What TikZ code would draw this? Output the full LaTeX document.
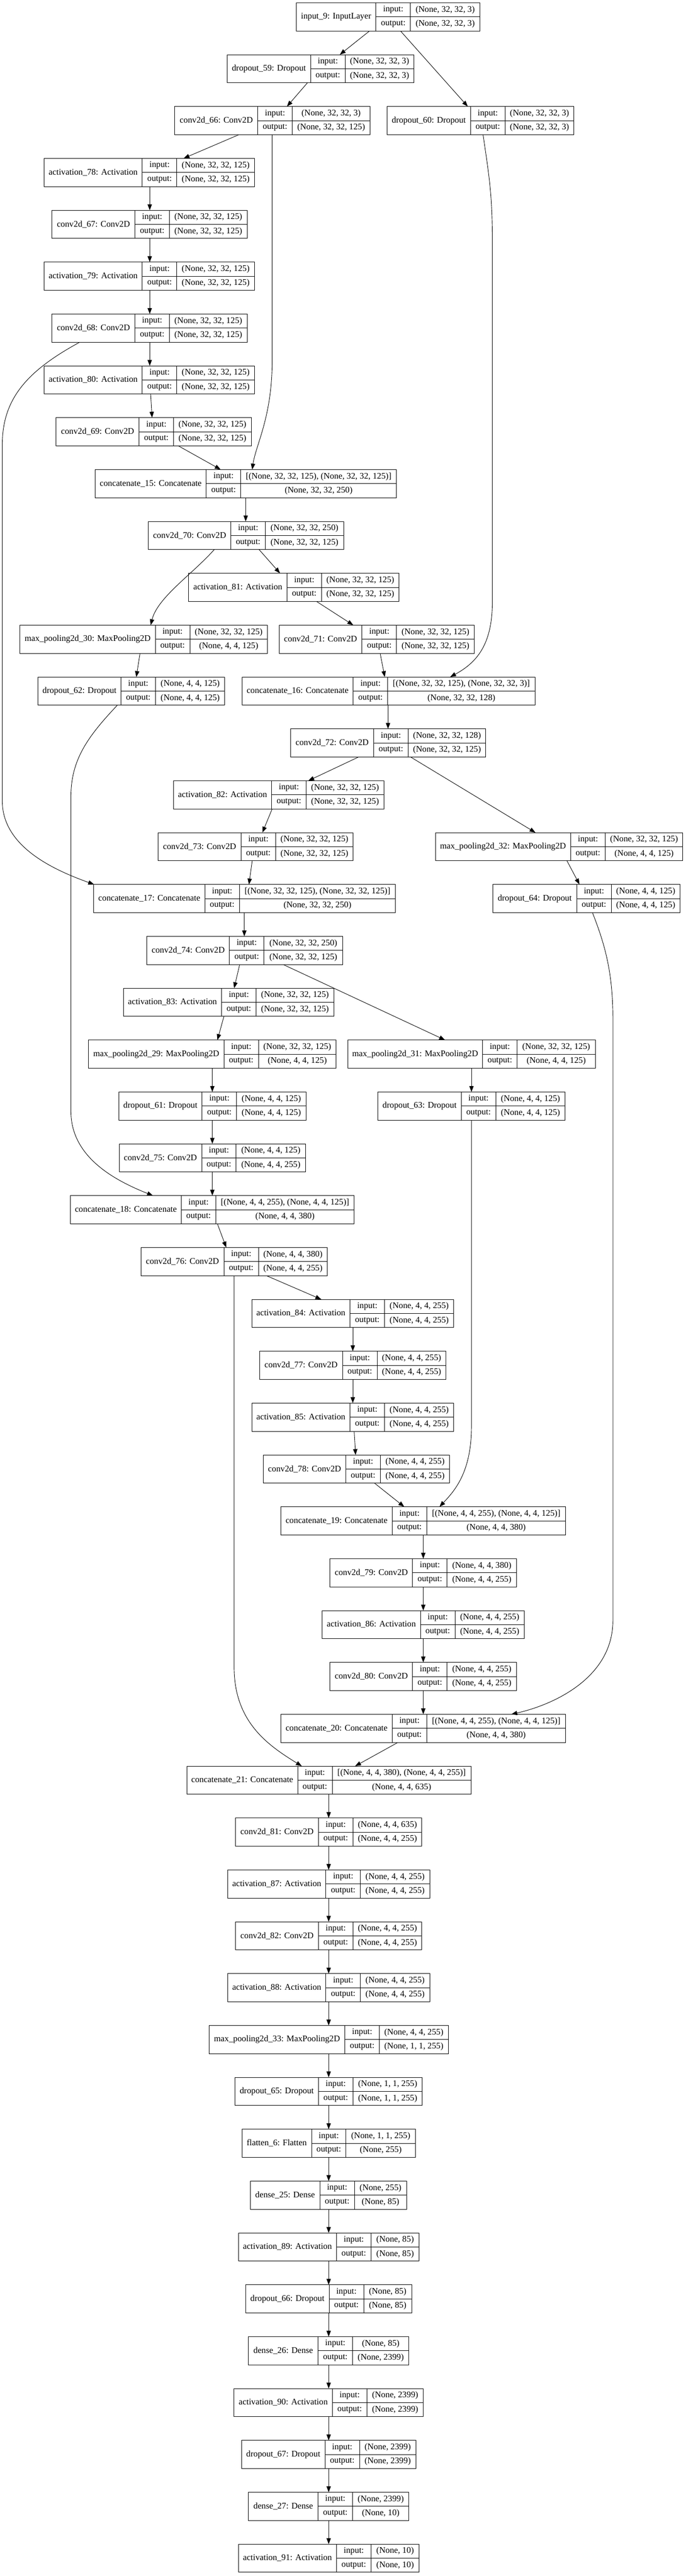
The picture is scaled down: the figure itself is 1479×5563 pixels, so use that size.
\documentclass[tikz,border=0pt]{standalone}
\usepackage{fontspec}
\setmainfont{Liberation Serif}
\usetikzlibrary{arrows.meta}

% one keras layer: id, rank, left, divider, right, name, input shape, output shape
\newcommand{\layer}[8]{%
  \pgfmathsetmacro{\ltop}{6+112*#2}%
  \node[namecell, minimum width={(#4-#3)*0.75pt}] (#1) at (#3,\ltop) {#6};%
  \node[portcell] (#1-pi) at (#4,\ltop) {input:};%
  \node[portcell] (#1-po) at (#4,\ltop+30.5) {output:};%
  \node[shapecell, minimum width={(#5-#4-74.5)*0.75pt}] (#1-si) at (#4+74.5,\ltop) {#7};%
  \node[shapecell, minimum width={(#5-#4-74.5)*0.75pt}] (#1-so) at (#4+74.5,\ltop+30.5) {#8};%
}

\tikzset{
  cellbox/.style={draw, line width=0.8pt, anchor=north west, inner sep=0pt, outer sep=0pt},
  namecell/.style={cellbox, minimum height=45.75pt},
  portcell/.style={cellbox, minimum width=55.875pt, minimum height=22.875pt},
  shapecell/.style={cellbox, minimum height=22.875pt},
  edge/.style={draw, line width=0.75pt, -{Triangle[length=9.5pt, width=7pt]}}
}

\begin{document}
\begin{tikzpicture}[x=0.75pt, y=-0.75pt, font=\fontsize{14}{16}\selectfont]
	\fill[white] (0,0) rectangle (1479,5563);
	\useasboundingbox (0,0) rectangle (1479,5563);
	\layer{in9}{0}{639}{811}{1035}{input\_9: InputLayer}{(None, 32, 32, 3)}{(None, 32, 32, 3)}
	\layer{do59}{1}{490}{670}{893}{dropout\_59: Dropout}{(None, 32, 32, 3)}{(None, 32, 32, 3)}
	\layer{cv66}{2}{377}{556}{798}{conv2d\_66: Conv2D}{(None, 32, 32, 3)}{(None, 32, 32, 125)}
	\layer{do60}{2}{835}{1015}{1238}{dropout\_60: Dropout}{(None, 32, 32, 3)}{(None, 32, 32, 3)}
	\layer{ac78}{3}{95}{307}{549}{activation\_78: Activation}{(None, 32, 32, 125)}{(None, 32, 32, 125)}
	\layer{cv67}{4}{112}{291}{533}{conv2d\_67: Conv2D}{(None, 32, 32, 125)}{(None, 32, 32, 125)}
	\layer{ac79}{5}{95}{307}{549}{activation\_79: Activation}{(None, 32, 32, 125)}{(None, 32, 32, 125)}
	\layer{cv68}{6}{112}{291}{533}{conv2d\_68: Conv2D}{(None, 32, 32, 125)}{(None, 32, 32, 125)}
	\layer{ac80}{7}{95}{307}{549}{activation\_80: Activation}{(None, 32, 32, 125)}{(None, 32, 32, 125)}
	\layer{cv69}{8}{121}{300}{542}{conv2d\_69: Conv2D}{(None, 32, 32, 125)}{(None, 32, 32, 125)}
	\layer{cc15}{9}{205}{445}{855}{concatenate\_15: Concatenate}{[(None, 32, 32, 125), (None, 32, 32, 125)]}{(None, 32, 32, 250)}
	\layer{cv70}{10}{320}{498}{741}{conv2d\_70: Conv2D}{(None, 32, 32, 250)}{(None, 32, 32, 125)}
	\layer{ac81}{11}{407}{619}{861}{activation\_81: Activation}{(None, 32, 32, 125)}{(None, 32, 32, 125)}
	\layer{mp30}{12}{43}{335}{577}{max\_pooling2d\_30: MaxPooling2D}{(None, 32, 32, 125)}{(None, 4, 4, 125)}
	\layer{cv71}{12}{602}{781}{1023}{conv2d\_71: Conv2D}{(None, 32, 32, 125)}{(None, 32, 32, 125)}
	\layer{do62}{13}{82}{261}{485}{dropout\_62: Dropout}{(None, 4, 4, 125)}{(None, 4, 4, 125)}
	\layer{cc16}{13}{522}{762}{1154}{concatenate\_16: Concatenate}{[(None, 32, 32, 125), (None, 32, 32, 3)]}{(None, 32, 32, 128)}
	\layer{cv72}{14}{627}{806}{1048}{conv2d\_72: Conv2D}{(None, 32, 32, 128)}{(None, 32, 32, 125)}
	\layer{ac82}{15}{374}{586}{828}{activation\_82: Activation}{(None, 32, 32, 125)}{(None, 32, 32, 125)}
	\layer{cv73}{16}{341}{520}{762}{conv2d\_73: Conv2D}{(None, 32, 32, 125)}{(None, 32, 32, 125)}
	\layer{mp32}{16}{939}{1231}{1473}{max\_pooling2d\_32: MaxPooling2D}{(None, 32, 32, 125)}{(None, 4, 4, 125)}
	\layer{cc17}{17}{202}{442}{853}{concatenate\_17: Concatenate}{[(None, 32, 32, 125), (None, 32, 32, 125)]}{(None, 32, 32, 250)}
	\layer{do64}{17}{1063}{1244}{1467}{dropout\_64: Dropout}{(None, 4, 4, 125)}{(None, 4, 4, 125)}
	\layer{cv74}{18}{317}{495}{739}{conv2d\_74: Conv2D}{(None, 32, 32, 250)}{(None, 32, 32, 125)}
	\layer{ac83}{19}{266}{478}{720}{activation\_83: Activation}{(None, 32, 32, 125)}{(None, 32, 32, 125)}
	\layer{mp29}{20}{191}{483}{725}{max\_pooling2d\_29: MaxPooling2D}{(None, 32, 32, 125)}{(None, 4, 4, 125)}
	\layer{mp31}{20}{750}{1041}{1284}{max\_pooling2d\_31: MaxPooling2D}{(None, 32, 32, 125)}{(None, 4, 4, 125)}
	\layer{do61}{21}{256}{436}{660}{dropout\_61: Dropout}{(None, 4, 4, 125)}{(None, 4, 4, 125)}
	\layer{do63}{21}{815}{995}{1219}{dropout\_63: Dropout}{(None, 4, 4, 125)}{(None, 4, 4, 125)}
	\layer{cv75}{22}{257}{435}{659}{conv2d\_75: Conv2D}{(None, 4, 4, 125)}{(None, 4, 4, 255)}
	\layer{cc18}{23}{152}{391}{764}{concatenate\_18: Concatenate}{[(None, 4, 4, 255), (None, 4, 4, 125)]}{(None, 4, 4, 380)}
	\layer{cv76}{24}{304}{483}{706}{conv2d\_76: Conv2D}{(None, 4, 4, 380)}{(None, 4, 4, 255)}
	\layer{ac84}{25}{543}{755}{979}{activation\_84: Activation}{(None, 4, 4, 255)}{(None, 4, 4, 255)}
	\layer{cv77}{26}{560}{739}{962}{conv2d\_77: Conv2D}{(None, 4, 4, 255)}{(None, 4, 4, 255)}
	\layer{ac85}{27}{543}{755}{979}{activation\_85: Activation}{(None, 4, 4, 255)}{(None, 4, 4, 255)}
	\layer{cv78}{28}{568}{746}{970}{conv2d\_78: Conv2D}{(None, 4, 4, 255)}{(None, 4, 4, 255)}
	\layer{cc19}{29}{606}{846}{1220}{concatenate\_19: Concatenate}{[(None, 4, 4, 255), (None, 4, 4, 125)]}{(None, 4, 4, 380)}
	\layer{cv79}{30}{712}{890}{1114}{conv2d\_79: Conv2D}{(None, 4, 4, 380)}{(None, 4, 4, 255)}
	\layer{ac86}{31}{695}{907}{1131}{activation\_86: Activation}{(None, 4, 4, 255)}{(None, 4, 4, 255)}
	\layer{cv80}{32}{712}{890}{1114}{conv2d\_80: Conv2D}{(None, 4, 4, 255)}{(None, 4, 4, 255)}
	\layer{cc20}{33}{606}{846}{1220}{concatenate\_20: Concatenate}{[(None, 4, 4, 255), (None, 4, 4, 125)]}{(None, 4, 4, 380)}
	\layer{cc21}{34}{403}{642}{1016}{concatenate\_21: Concatenate}{[(None, 4, 4, 380), (None, 4, 4, 255)]}{(None, 4, 4, 635)}
	\layer{cv81}{35}{508}{687}{910}{conv2d\_81: Conv2D}{(None, 4, 4, 635)}{(None, 4, 4, 255)}
	\layer{ac87}{36}{491}{703}{927}{activation\_87: Activation}{(None, 4, 4, 255)}{(None, 4, 4, 255)}
	\layer{cv82}{37}{508}{687}{910}{conv2d\_82: Conv2D}{(None, 4, 4, 255)}{(None, 4, 4, 255)}
	\layer{ac88}{38}{491}{703}{927}{activation\_88: Activation}{(None, 4, 4, 255)}{(None, 4, 4, 255)}
	\layer{mp33}{39}{451}{744}{967}{max\_pooling2d\_33: MaxPooling2D}{(None, 4, 4, 255)}{(None, 1, 1, 255)}
	\layer{do65}{40}{507}{687}{911}{dropout\_65: Dropout}{(None, 1, 1, 255)}{(None, 1, 1, 255)}
	\layer{fl6}{41}{522}{672}{896}{flatten\_6: Flatten}{(None, 1, 1, 255)}{(None, 255)}
	\layer{de25}{42}{540}{690}{877}{dense\_25: Dense}{(None, 255)}{(None, 85)}
	\layer{ac89}{43}{514}{726}{904}{activation\_89: Activation}{(None, 85)}{(None, 85)}
	\layer{do66}{44}{530}{710}{888}{dropout\_66: Dropout}{(None, 85)}{(None, 85)}
	\layer{de26}{45}{536}{686}{882}{dense\_26: Dense}{(None, 85)}{(None, 2399)}
	\layer{ac90}{46}{505}{717}{913}{activation\_90: Activation}{(None, 2399)}{(None, 2399)}
	\layer{do67}{47}{521}{701}{897}{dropout\_67: Dropout}{(None, 2399)}{(None, 2399)}
	\layer{de27}{48}{536}{686}{882}{dense\_27: Dense}{(None, 2399)}{(None, 10)}
	\layer{ac91}{49}{514}{726}{904}{activation\_91: Activation}{(None, 10)}{(None, 10)}
	% straight connectors
	\draw[edge] (797,0 |- in9.south) -- (733,0 |- do59.north);
	\draw[edge] (864,0 |- in9.south) -- (1009,0 |- do60.north);
	\draw[edge] (663,0 |- do59.south) -- (619,0 |- cv66.north);
	\draw[edge] (515,0 |- cv66.south) -- (396,0 |- ac78.north);
	\draw[edge] (323,0 |- ac78.south) -- (323,0 |- cv67.north);
	\draw[edge] (323,0 |- cv67.south) -- (323,0 |- ac79.north);
	\draw[edge] (323,0 |- ac79.south) -- (323,0 |- cv68.north);
	\draw[edge] (323,0 |- cv68.south) -- (323,0 |- ac80.north);
	\draw[edge] (325,0 |- ac80.south) -- (328,0 |- cv69.north);
	\draw[edge] (385,0 |- cv69.south) -- (476,0 |- cc15.north);
	\draw[edge] (530,0 |- cc15.south) -- (530,0 |- cv70.north);
	\draw[edge] (559,0 |- cv70.south) -- (604,0 |- ac81.north);
	\draw[edge] (683,0 |- ac81.south) -- (762,0 |- cv71.north);
	\draw[edge] (302,0 |- mp30.south) -- (294,0 |- do62.north);
	\draw[edge] (820,0 |- cv71.south) -- (830,0 |- cc16.north);
	\draw[edge] (837,0 |- cc16.south) -- (837,0 |- cv72.north);
	\draw[edge] (773,0 |- cv72.south) -- (665,0 |- ac82.north);
	\draw[edge] (886,0 |- cv72.south) -- (1155,0 |- mp32.north);
	\draw[edge] (587,0 |- ac82.south) -- (566,0 |- cv73.north);
	\draw[edge] (1223,0 |- mp32.south) -- (1250,0 |- do64.north);
	\draw[edge] (544,0 |- cv73.south) -- (537,0 |- cc17.north);
	\draw[edge] (527,0 |- cc17.south) -- (527,0 |- cv74.north);
	\draw[edge] (517,0 |- cv74.south) -- (505,0 |- ac83.north);
	\draw[edge] (611,0 |- cv74.south) -- (960,0 |- mp31.north);
	\draw[edge] (483,0 |- ac83.south) -- (469,0 |- mp29.north);
	\draw[edge] (458,0 |- mp29.south) -- (458,0 |- do61.north);
	\draw[edge] (1017,0 |- mp31.south) -- (1017,0 |- do63.north);
	\draw[edge] (458,0 |- do61.south) -- (458,0 |- cv75.north);
	\draw[edge] (458,0 |- cv75.south) -- (458,0 |- cc18.north);
	\draw[edge] (469,0 |- cc18.south) -- (488,0 |- cv76.north);
	\draw[edge] (575,0 |- cv76.south) -- (693,0 |- ac84.north);
	\draw[edge] (761,0 |- ac84.south) -- (761,0 |- cv77.north);
	\draw[edge] (761,0 |- cv77.south) -- (761,0 |- ac85.north);
	\draw[edge] (764,0 |- ac85.south) -- (767,0 |- cv78.north);
	\draw[edge] (808,0 |- cv78.south) -- (872,0 |- cc19.north);
	\draw[edge] (913,0 |- cc19.south) -- (913,0 |- cv79.north);
	\draw[edge] (913,0 |- cv79.south) -- (913,0 |- ac86.north);
	\draw[edge] (913,0 |- ac86.south) -- (913,0 |- cv80.north);
	\draw[edge] (913,0 |- cv80.south) -- (913,0 |- cc20.north);
	\draw[edge] (858,0 |- cc20.south) -- (766,0 |- cc21.north);
	\draw[edge] (709,0 |- cc21.south) -- (709,0 |- cv81.north);
	\draw[edge] (709,0 |- cv81.south) -- (709,0 |- ac87.north);
	\draw[edge] (709,0 |- ac87.south) -- (709,0 |- cv82.north);
	\draw[edge] (709,0 |- cv82.south) -- (709,0 |- ac88.north);
	\draw[edge] (709,0 |- ac88.south) -- (709,0 |- mp33.north);
	\draw[edge] (709,0 |- mp33.south) -- (709,0 |- do65.north);
	\draw[edge] (709,0 |- do65.south) -- (709,0 |- fl6.north);
	\draw[edge] (709,0 |- fl6.south) -- (709,0 |- de25.north);
	\draw[edge] (709,0 |- de25.south) -- (709,0 |- ac89.north);
	\draw[edge] (709,0 |- ac89.south) -- (709,0 |- do66.north);
	\draw[edge] (709,0 |- do66.south) -- (709,0 |- de26.north);
	\draw[edge] (709,0 |- de26.south) -- (709,0 |- ac90.north);
	\draw[edge] (709,0 |- ac90.south) -- (709,0 |- do67.north);
	\draw[edge] (709,0 |- do67.south) -- (709,0 |- de27.north);
	\draw[edge] (709,0 |- de27.south) -- (709,0 |- ac91.north);
	% long skip connectors
	\draw[edge] (587,0 |- cv66.south) -- (587,780) .. controls (587,900) and (552,960) .. (544,0 |- cc15.north);
	\draw[edge] (172,0 |- cv68.south) .. controls (60,800) and (5,860) .. (5,960) -- (5,1730) .. controls (5,1830) and (120,1880) .. (203,0 |- cc17.north);
	\draw[edge] (1042,0 |- do60.south) .. controls (1055,380) and (1062,420) .. (1062,520) -- (1062,1300) .. controls (1062,1390) and (1030,1430) .. (971,0 |- cc16.north);
	\draw[edge] (462,0 |- cv70.south) .. controls (415,1240) and (340,1290) .. (325,0 |- mp30.north);
	\draw[edge] (253,0 |- do62.south) .. controls (190,1590) and (153,1640) .. (153,1720) -- (153,2400) .. controls (153,2500) and (250,2550) .. (330,0 |- cc18.north);
	\draw[edge] (1278,0 |- do64.south) .. controls (1305,2040) and (1322,2100) .. (1322,2200) -- (1322,3500) .. controls (1322,3620) and (1200,3680) .. (1103,0 |- cc20.north);
	\draw[edge] (1017,0 |- do63.south) -- (1017,3080) .. controls (1017,3180) and (980,3220) .. (948,0 |- cc19.north);
	\draw[edge] (505,0 |- cv76.south) -- (505,3600) .. controls (505,3720) and (580,3770) .. (651,0 |- cc21.north);
\end{tikzpicture}
\end{document}
